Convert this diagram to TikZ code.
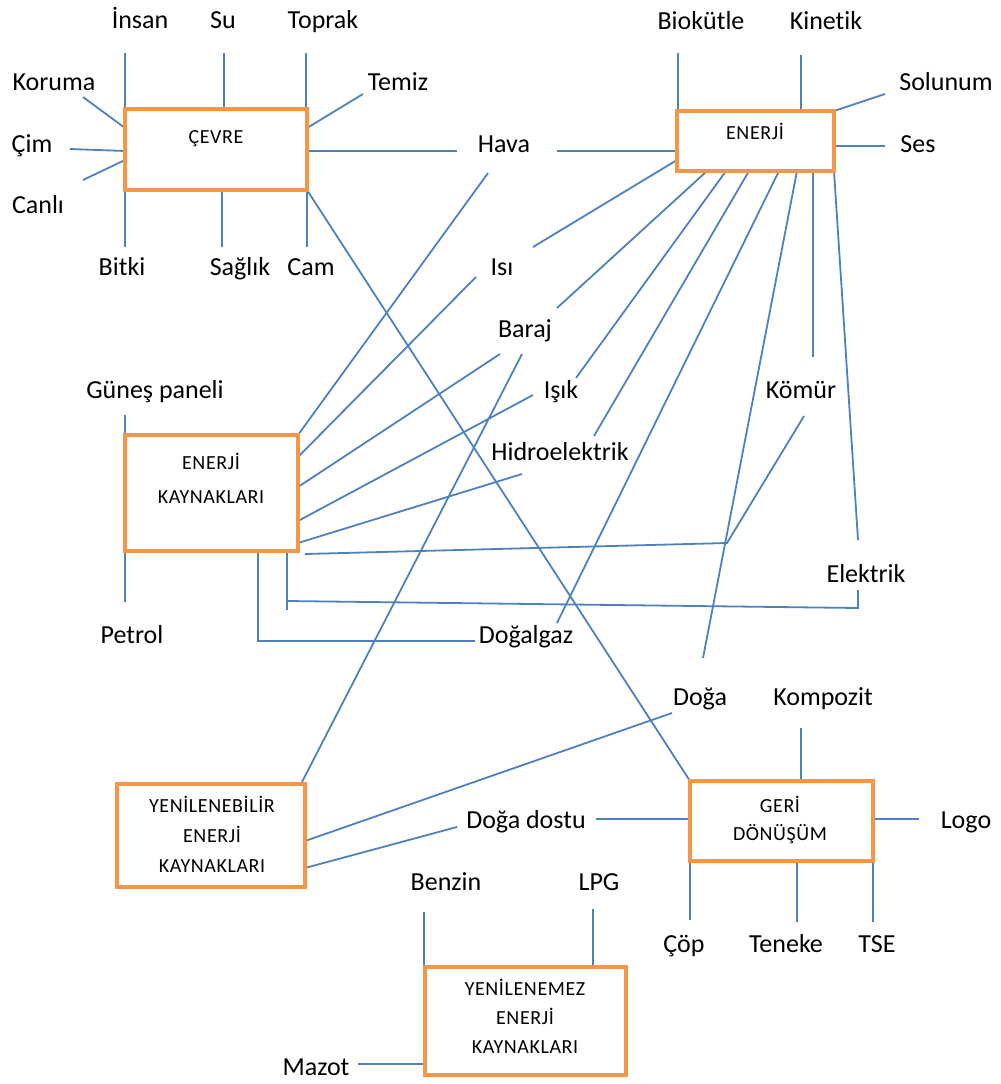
\documentclass[tikz,border=0pt]{standalone}
\usepackage{fontspec}
\setmainfont{Carlito}[Ligatures=NoCommon]
\newfontfamily\capfam{Carlito}[LetterSpace=3, Ligatures=NoCommon]
\usetikzlibrary{calc,backgrounds}
\definecolor{linkblue}{HTML}{4F81BD}
\definecolor{boxorange}{HTML}{F79646}
\newcommand\wordsize{\fontsize{26}{30}\selectfont}
\newcommand\capsize{\capfam\fontsize{20}{22}\selectfont}
\tikzset{
  box/.style={draw=boxorange, line width=4pt, rectangle, outer sep=0pt, inner sep=0pt, fill=white},
  link/.style={draw=linkblue, line width=1.8pt},
  keyword/.style={font=\wordsize, anchor=base, inner sep=0pt, text=black},
  boxcaption/.style={font=\capsize, anchor=base, inner sep=0pt, text=black}
}
\begin{document}
\begin{tikzpicture}[x=1pt,y=-1pt]
\useasboundingbox (0,0) rectangle (1001,1084);

% ---------- concept boxes ----------
\node[box, minimum width=182, minimum height=81]  (cevre)  at (216,149.5) {};
\node[box, minimum width=157, minimum height=60]  (enerji) at (755.5,141) {};
\node[box, minimum width=173, minimum height=116] (ek)     at (211.5,493) {};
\node[box, minimum width=188, minimum height=103] (yeb)    at (211,835.5) {};
\node[box, minimum width=183, minimum height=80]  (gd)     at (781.5,821) {};
\node[box, minimum width=201, minimum height=108] (yem)    at (525.5,1021) {};

% box captions
\node[boxcaption] (cevre-t)  at (216,143) {ÇEVRE};
\node[boxcaption] (enerji-t) at (755,139) {ENERJİ};
\node[boxcaption] (ek-t1) at (211,469) {ENERJİ};
\node[boxcaption] (ek-t2) at (211,503) {KAYNAKLARI};
\node[boxcaption] (yeb-t1) at (212,812) {YENİLENEBİLİR};
\node[boxcaption] (yeb-t2) at (212,842) {ENERJİ};
\node[boxcaption] (yeb-t3) at (212,872) {KAYNAKLARI};
\node[boxcaption] (gd-t1) at (780,812) {GERİ};
\node[boxcaption] (gd-t2) at (780,840) {DÖNÜŞÜM};
\node[boxcaption] (yem-t1) at (525,995) {YENİLENEMEZ};
\node[boxcaption] (yem-t2) at (525,1024) {ENERJİ};
\node[boxcaption] (yem-t3) at (525,1053) {KAYNAKLARI};

% ---------- keywords ----------
\node[keyword] (insan)    at (140,28)  {İnsan};
\node[keyword] (su)       at (223,28)  {Su};
\node[keyword] (toprak)   at (323,28)  {Toprak};
\node[keyword] (koruma)   at (54,90)   {Koruma};
\node[keyword] (temiz)    at (398,90)  {Temiz};
\node[keyword] (cim)      at (32,152)  {Çim};
\node[keyword] (canli)    at (38,213)  {Canlı};
\node[keyword] (bitki)    at (122,275) {Bitki};
\node[keyword] (saglik)   at (240,275) {Sağlık};
\node[keyword] (cam)      at (311,275) {Cam};
\node[keyword] (hava)     at (504,152) {Hava};
\node[keyword] (biokutle) at (701,29)  {Biokütle};
\node[keyword] (kinetik)  at (826,29)  {Kinetik};
\node[keyword] (solunum)  at (946,90)  {Solunum};
\node[keyword] (ses)      at (918,152) {Ses};
\node[keyword] (isi)      at (502,275) {Isı};
\node[keyword] (baraj)    at (525,337) {Baraj};
\node[keyword] (isik)     at (561,398) {Işık};
\node[keyword] (hidro)    at (560,460) {Hidroelektrik};
\node[keyword] (komur)    at (801,398) {Kömür};
\node[keyword] (gunes)    at (155,398) {Güneş paneli};
\node[keyword] (elektrik) at (866,582) {Elektrik};
\node[keyword] (petrol)   at (132,643) {Petrol};
\node[keyword] (dogalgaz) at (526,643) {Doğalgaz};
\node[keyword] (doga)     at (700,705) {Doğa};
\node[keyword] (kompozit) at (823,705) {Kompozit};
\node[keyword] (dostu)    at (526,828) {Doğa dostu};
\node[keyword] (logo)     at (966,828) {Logo};
\node[keyword] (benzin)   at (446,890) {Benzin};
\node[keyword] (lpg)      at (599,890) {LPG};
\node[keyword] (cop)      at (684,952) {Çöp};
\node[keyword] (teneke)   at (786,952) {Teneke};
\node[keyword] (tse)      at (877,952) {TSE};
\node[keyword] (mazot)    at (316,1075) {Mazot};

% ---------- free ends of the connectors ----------
\coordinate (e-insan)  at (125,53);
\coordinate (e-su)     at (224,53);
\coordinate (e-toprak) at (306,53);
\coordinate (e-koruma) at (83,97);
\coordinate (e-temiz)  at (363,94);
\coordinate (e-cim)    at (70,149);
\coordinate (e-canli)  at (83,180);
\coordinate (e-bitki)  at (125,247);
\coordinate (e-saglik) at (222,247);
\coordinate (e-cam)    at (307,247);
\coordinate (e-hava-w) at (457,151);
\coordinate (e-hava-e) at (557,151);
\coordinate (e-hava-s) at (488,173);
\coordinate (e-bio)    at (678,53);
\coordinate (e-kin)    at (801,55);
\coordinate (e-sol)    at (885,94);
\coordinate (e-ses)    at (885,146);
\coordinate (e-isi-a)  at (533,247);
\coordinate (e-isi-b)  at (476,277);
\coordinate (e-baraj-a) at (557,308);
\coordinate (e-baraj-b) at (500,354);
\coordinate (e-baraj-c) at (522,354);
\coordinate (e-isik-a) at (576,378);
\coordinate (e-isik-b) at (533,395);
\coordinate (e-hidro-a) at (594,436);
\coordinate (e-hidro-b) at (522,474);
\coordinate (e-dgaz-a) at (557,623);
\coordinate (e-dgaz-b) at (475,641);
\coordinate (e-doga-a) at (703,658);
\coordinate (e-doga-b) at (672,713);
\coordinate (e-komur-a) at (813,357);
\coordinate (e-komur-b) at (804,416);
\coordinate (k-knee)   at (727,543);
\coordinate (e-elek-a) at (858,540);
\coordinate (e-elek-b) at (858,590);
\coordinate (el-knee)  at (858,608);
\coordinate (el-start) at (287,601);
\coordinate (e-gunes)  at (125,415);
\coordinate (e-petrol) at (125,602);
\coordinate (e-dostu-a) at (457,827);
\coordinate (e-dostu-b) at (596,819);
\coordinate (e-komp)   at (801,728);
\coordinate (e-logo)   at (919,819);
\coordinate (e-cop)    at (690,920);
\coordinate (e-teneke) at (797,922);
\coordinate (e-tse)    at (873,922);
\coordinate (e-benzin) at (424,912);
\coordinate (e-lpg)    at (593,909);
\coordinate (e-mazot)  at (358,1064);

\begin{pgfonlayer}{background}
% spokes of ÇEVRE
\draw[link] (e-insan)  -- (e-insan |- cevre.north);
\draw[link] (e-su)     -- (e-su |- cevre.north);
\draw[link] (e-toprak) -- (e-toprak |- cevre.north);
\draw[link] (e-koruma) -- ([yshift=21.5]cevre.west);
\draw[link] (e-temiz)  -- ([yshift=21.5]cevre.east);
\draw[link] (e-cim)    -- ([yshift=-1.5]cevre.west);
\draw[link] (e-canli)  -- ([yshift=-10.5]cevre.west);
\draw[link] (e-bitki |- cevre.south)  -- (e-bitki);
\draw[link] (e-saglik |- cevre.south) -- (e-saglik);
\draw[link] (e-cam |- cevre.south)    -- (e-cam);
\draw[link] (e-hava-w -| cevre.east)  -- (e-hava-w);
\draw[link] (e-hava-e) -- (e-hava-e -| enerji.west);
\draw[link] (cevre.south east) -- (gd.north west);

% spokes of ENERJİ
\draw[link] (e-bio) -- (e-bio |- enerji.north);
\draw[link] (e-kin) -- (e-kin |- enerji.north);
\draw[link] (e-sol) -- (enerji.north east);
\draw[link] (e-ses) -- (e-ses -| enerji.east);
\draw[link] (e-isi-a)   -- ([yshift=-19]enerji.west);
\draw[link] (e-baraj-a) -- ([xshift=-48.5]enerji.south);
\draw[link] (e-isik-a)  -- ([xshift=-29.5]enerji.south);
\draw[link] (e-hidro-a) -- ([xshift=-6.5]enerji.south);
\draw[link] (e-dgaz-a)  -- ([xshift=23.5]enerji.south);
\draw[link] (e-doga-a)  -- ([xshift=41.5]enerji.south);
\draw[link] (e-komur-a) -- (e-komur-a |- enerji.south);
\draw[link] (e-elek-a)  -- (enerji.south east);

% spokes of ENERJİ KAYNAKLARI
\draw[link] (e-hava-s)  -- (ek.north east);
\draw[link] (e-isi-b)   -- ([yshift=-22]ek.north east);
\draw[link] (e-baraj-b) -- ([yshift=-52]ek.north east);
\draw[link] (e-isik-b)  -- ([yshift=-86]ek.north east);
\draw[link] (e-hidro-b) -- ([yshift=-108]ek.north east);
\draw[link] ([xshift=7,yshift=-3]ek.south east) -- (k-knee) -- (e-komur-b);
\draw[link] ([xshift=-11]ek.south east) -- ++(0,59);
\draw[link] (el-start) -- (el-knee) -- (e-elek-b);
\draw[link] ([xshift=-40]ek.south east) |- (e-dgaz-b);
\draw[link] (e-gunes) -- (e-gunes |- ek.north);
\draw[link] (e-petrol |- ek.south) -- (e-petrol);

% spokes of YENİLENEBİLİR ENERJİ KAYNAKLARI
\draw[link] (e-baraj-c) -- ([xshift=-4]yeb.north east);
\draw[link] (e-doga-b)  -- ([yshift=-5.5]yeb.east);
\draw[link] (e-dostu-a) -- ([yshift=-32.5]yeb.east);

% spokes of GERİ DÖNÜŞÜM
\draw[link] (e-dostu-b) -- (e-dostu-b -| gd.west);
\draw[link] (e-komp) -- (e-komp |- gd.north);
\draw[link] (e-logo -| gd.east) -- (e-logo);
\draw[link] (e-cop |- gd.south) -- (e-cop);
\draw[link] (e-teneke |- gd.south) -- (e-teneke);
\draw[link] (e-tse |- gd.south) -- (e-tse);

% spokes of YENİLENEMEZ ENERJİ KAYNAKLARI
\draw[link] (e-benzin) -- (e-benzin |- yem.north);
\draw[link] (e-lpg) -- (e-lpg |- yem.north);
\draw[link] (e-mazot) -- (e-mazot -| yem.west);
\end{pgfonlayer}
\end{tikzpicture}
\end{document}
